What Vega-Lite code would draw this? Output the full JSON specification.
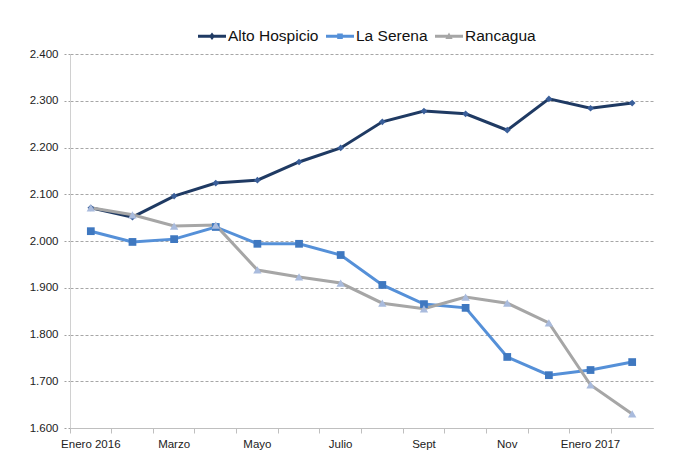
{
  "$schema": "https://vega.github.io/schema/vega-lite/v6.json",
  "width": 583,
  "height": 374,
  "autosize": "none",
  "padding": {"left": 70, "top": 54, "right": 29, "bottom": 35},
  "background": "white",
  "config": {
    "font": "Liberation Sans Narrow, Liberation Sans, Arial Narrow, sans-serif",
    "view": {"stroke": null}
  },
  "data": {
    "values": [
      {"mes": "Enero 2016", "serie": "Alto Hospicio", "valor": 2071},
      {"mes": "Febrero", "serie": "Alto Hospicio", "valor": 2051},
      {"mes": "Marzo", "serie": "Alto Hospicio", "valor": 2096},
      {"mes": "Abril", "serie": "Alto Hospicio", "valor": 2124},
      {"mes": "Mayo", "serie": "Alto Hospicio", "valor": 2130},
      {"mes": "Junio", "serie": "Alto Hospicio", "valor": 2169},
      {"mes": "Julio", "serie": "Alto Hospicio", "valor": 2199},
      {"mes": "Agosto", "serie": "Alto Hospicio", "valor": 2255},
      {"mes": "Sept", "serie": "Alto Hospicio", "valor": 2278},
      {"mes": "Octubre", "serie": "Alto Hospicio", "valor": 2272},
      {"mes": "Nov", "serie": "Alto Hospicio", "valor": 2237},
      {"mes": "Diciembre", "serie": "Alto Hospicio", "valor": 2304},
      {"mes": "Enero 2017", "serie": "Alto Hospicio", "valor": 2284},
      {"mes": "Febrero 2017", "serie": "Alto Hospicio", "valor": 2295},
      {"mes": "Enero 2016", "serie": "La Serena", "valor": 2021},
      {"mes": "Febrero", "serie": "La Serena", "valor": 1998},
      {"mes": "Marzo", "serie": "La Serena", "valor": 2004},
      {"mes": "Abril", "serie": "La Serena", "valor": 2030},
      {"mes": "Mayo", "serie": "La Serena", "valor": 1994},
      {"mes": "Junio", "serie": "La Serena", "valor": 1994},
      {"mes": "Julio", "serie": "La Serena", "valor": 1970},
      {"mes": "Agosto", "serie": "La Serena", "valor": 1906},
      {"mes": "Sept", "serie": "La Serena", "valor": 1865},
      {"mes": "Octubre", "serie": "La Serena", "valor": 1857},
      {"mes": "Nov", "serie": "La Serena", "valor": 1752},
      {"mes": "Diciembre", "serie": "La Serena", "valor": 1713},
      {"mes": "Enero 2017", "serie": "La Serena", "valor": 1724},
      {"mes": "Febrero 2017", "serie": "La Serena", "valor": 1741},
      {"mes": "Enero 2016", "serie": "Rancagua", "valor": 2071},
      {"mes": "Febrero", "serie": "Rancagua", "valor": 2056},
      {"mes": "Marzo", "serie": "Rancagua", "valor": 2032},
      {"mes": "Abril", "serie": "Rancagua", "valor": 2034},
      {"mes": "Mayo", "serie": "Rancagua", "valor": 1938},
      {"mes": "Junio", "serie": "Rancagua", "valor": 1923},
      {"mes": "Julio", "serie": "Rancagua", "valor": 1910},
      {"mes": "Agosto", "serie": "Rancagua", "valor": 1867},
      {"mes": "Sept", "serie": "Rancagua", "valor": 1855},
      {"mes": "Octubre", "serie": "Rancagua", "valor": 1880},
      {"mes": "Nov", "serie": "Rancagua", "valor": 1867},
      {"mes": "Diciembre", "serie": "Rancagua", "valor": 1825},
      {"mes": "Enero 2017", "serie": "Rancagua", "valor": 1692},
      {"mes": "Febrero 2017", "serie": "Rancagua", "valor": 1630}
    ]
  },
  "encoding": {
    "x": {
      "field": "mes",
      "type": "nominal",
      "sort": null,
      "title": null,
      "scale": {"type": "band", "paddingInner": 0, "paddingOuter": 0},
      "axis": {
        "bandPosition": 0,
        "labelAngle": 0,
        "labelFontSize": 11.5,
        "labelColor": "#222222",
        "labelPadding": 5,
        "labelAlign": "center",
        "labelExpr": "indexof(['Enero 2016','Marzo','Mayo','Julio','Sept','Nov','Enero 2017'], datum.value) >= 0 ? datum.value : ''",
        "domainColor": "#BFBFBF",
        "tickColor": "#BFBFBF",
        "tickSize": 5,
        "grid": false
      }
    },
    "y": {
      "field": "valor",
      "type": "quantitative",
      "title": null,
      "scale": {"domain": [1600, 2400], "nice": false, "zero": false},
      "axis": {
        "values": [1600, 1700, 1800, 1900, 2000, 2100, 2200, 2300, 2400],
        "labelExpr": "format(datum.value / 1000, '.3f')",
        "labelFontSize": 11.5,
        "labelColor": "#222222",
        "labelPadding": 6,
        "domainColor": "#D0D0D0",
        "tickColor": "#A0A0A0",
        "tickSize": 6,
        "tickDash": [2, 2],
        "grid": true,
        "gridColor": "#A6A6A6",
        "gridDash": [3, 2],
        "gridWidth": 1
      }
    }
  },
  "layer": [
    {
      "mark": {"type": "line", "strokeWidth": 3},
      "encoding": {
        "color": {
          "field": "serie",
          "type": "nominal",
          "scale": {
            "domain": ["Alto Hospicio", "La Serena", "Rancagua"],
            "range": ["#1F3A63", "#5590D8", "#A6A6A6"]
          },
          "legend": {
            "title": null,
            "orient": "none",
            "direction": "horizontal",
            "legendX": 128,
            "legendY": -32,
            "labelFontSize": 15.5,
            "labelColor": "#111111",
            "labelOffset": 2,
            "columnPadding": 7,
            "symbolSize": 784,
            "symbolStrokeWidth": 0,
            "encode": {
              "symbols": {
                "update": {
                  "shape": {"signal": "datum.value === 'Alto Hospicio' ? 'M-1,-0.1H1V0.1H-1Z M0,-0.26L0.21,0L0,0.26L-0.21,0Z' : datum.value === 'La Serena' ? 'M-1,-0.1H1V0.1H-1Z M-0.2,-0.2H0.2V0.2H-0.2Z' : 'M-1,-0.1H1V0.1H-1Z M0,-0.26L0.26,0.2H-0.26Z'"},
                  "fill": {"scale": "color", "field": "value"},
                  "strokeWidth": {"value": 0}
                }
              }
            }
          }
        }
      }
    },
    {
      "transform": [{"filter": "datum.serie === 'Alto Hospicio'"}],
      "mark": {"type": "point", "filled": true, "opacity": 1, "shape": "diamond", "size": 45, "fill": "#3A5F9A"}
    },
    {
      "transform": [{"filter": "datum.serie === 'La Serena'"}],
      "mark": {"type": "point", "filled": true, "opacity": 1, "shape": "square", "size": 60, "fill": "#3F78C0"}
    },
    {
      "transform": [{"filter": "datum.serie === 'Rancagua'"}],
      "mark": {"type": "point", "filled": true, "opacity": 1, "shape": "triangle-up", "size": 70, "fill": "#A9BBDD"}
    }
  ]
}
